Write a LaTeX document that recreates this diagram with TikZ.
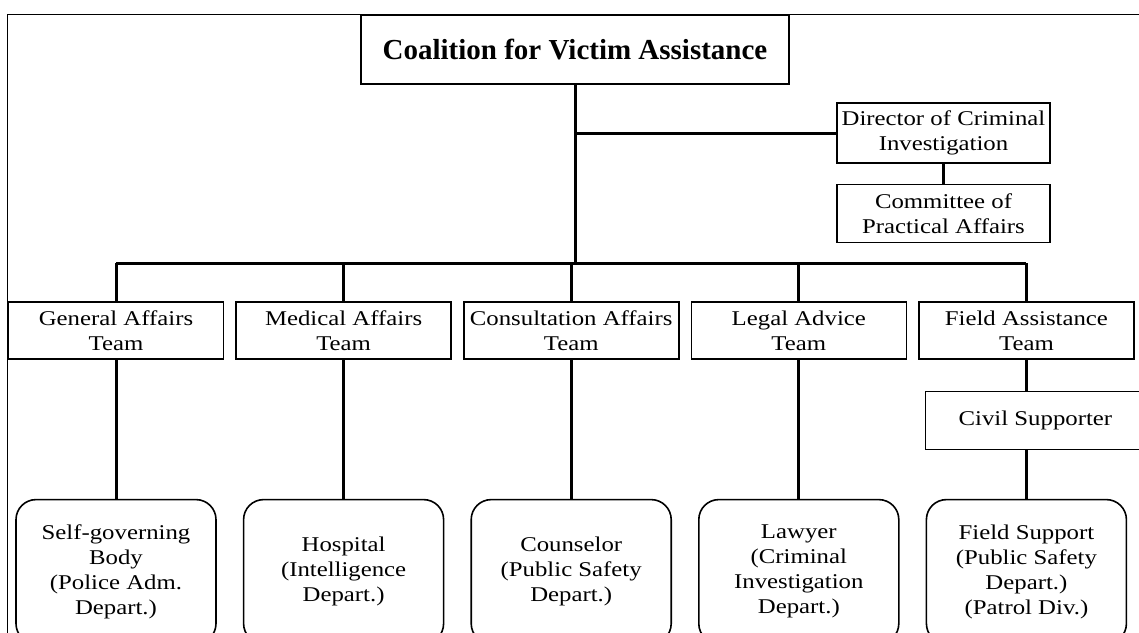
\documentclass[tikz,border=0pt]{standalone}
\usepackage{fontspec}
\setmainfont{Liberation Serif}
\newfontfamily\bodyfont{Liberation Serif}[FakeStretch=1.18]
\newfontfamily\titlefont{Liberation Serif}
\usetikzlibrary{positioning,chains}

\begin{document}
\begin{tikzpicture}[x=1pt,y=-1pt,
        every node/.style={align=center,inner sep=1pt,font={\bodyfont\fontsize{21}{25}\selectfont}},
        box/.style={draw,line width=1.6pt,minimum width=215pt,minimum height=57pt},
        unit/.style={draw,line width=1.6pt,rounded corners=20pt,minimum width=200pt,minimum height=144pt},
        link/.style={line width=3pt},
        frame/.style={line width=1.6pt}
        ]
        \useasboundingbox (0,0) rectangle (1139,632);
        \clip (0,0) rectangle (1139,632);

        % the outer frame
        \draw[frame] (7.5,650) -- (7.5,14.5) -- (1150,14.5);

        % the head and its staff
        \node[box,minimum width=428pt,minimum height=69pt,font={\titlefont\bfseries\fontsize{29}{34}\selectfont}] (title) at (575,49.5) {Coalition for Victim Assistance};
        \node[box,minimum width=213pt,minimum height=60pt] (dir) at (943.5,133) {Director of Criminal\\Investigation};
        \node[box,minimum width=213pt,minimum height=58pt,below=20pt of dir] (com) {Committee of\\Practical Affairs};
        \coordinate (hub) at (575,263);

        % the teams
        \begin{scope}[start chain=going right,node distance=11pt]
        \node[box,on chain] (t1) at (116,330.5) {General Affairs\\Team};
        \node[box,on chain] (t2) {Medical Affairs\\Team};
        \node[box,on chain] (t3) {Consultation Affairs\\Team};
        \node[box,on chain] (t4) {Legal Advice\\Team};
        \node[box,on chain] (t5) {Field Assistance\\Team};
        \end{scope}

        \node[box,minimum width=220pt,minimum height=58pt,below=31pt of t5,xshift=9pt] (civ) {Civil Supporter};

        % the units below the teams
        \node[unit,below=139pt of t1] (r1) {Self-governing\\Body\\(Police Adm.\\Depart.)};
        \node[unit,below=139pt of t2] (r2) {Hospital\\(Intelligence\\Depart.)};
        \node[unit,below=139pt of t3] (r3) {Counselor\\(Public Safety\\Depart.)};
        \node[unit,below=139pt of t4] (r4) {Lawyer\\(Criminal\\Investigation\\Depart.)};
        \node[unit,below=139pt of t5] (r5) {Field Support\\(Public Safety\\Depart.)\\(Patrol Div.)};

        % the links
        \draw[link] (title) -- (hub);
        \draw[link] (title |- dir) -- (dir);
        \draw[link] (dir) -- (com);
        \draw[link] (t1 |- hub) -- (t5 |- hub);
        \foreach \i in {1,...,5}
            \draw[link] (t\i |- hub) -- (t\i);
        \foreach \i in {1,...,4}
            \draw[link] (t\i) -- (r\i);
        \draw[link] (t5) -- (t5 |- civ.north);
        \draw[link] (r5 |- civ.south) -- (r5);
        \end{tikzpicture}
\end{document}
